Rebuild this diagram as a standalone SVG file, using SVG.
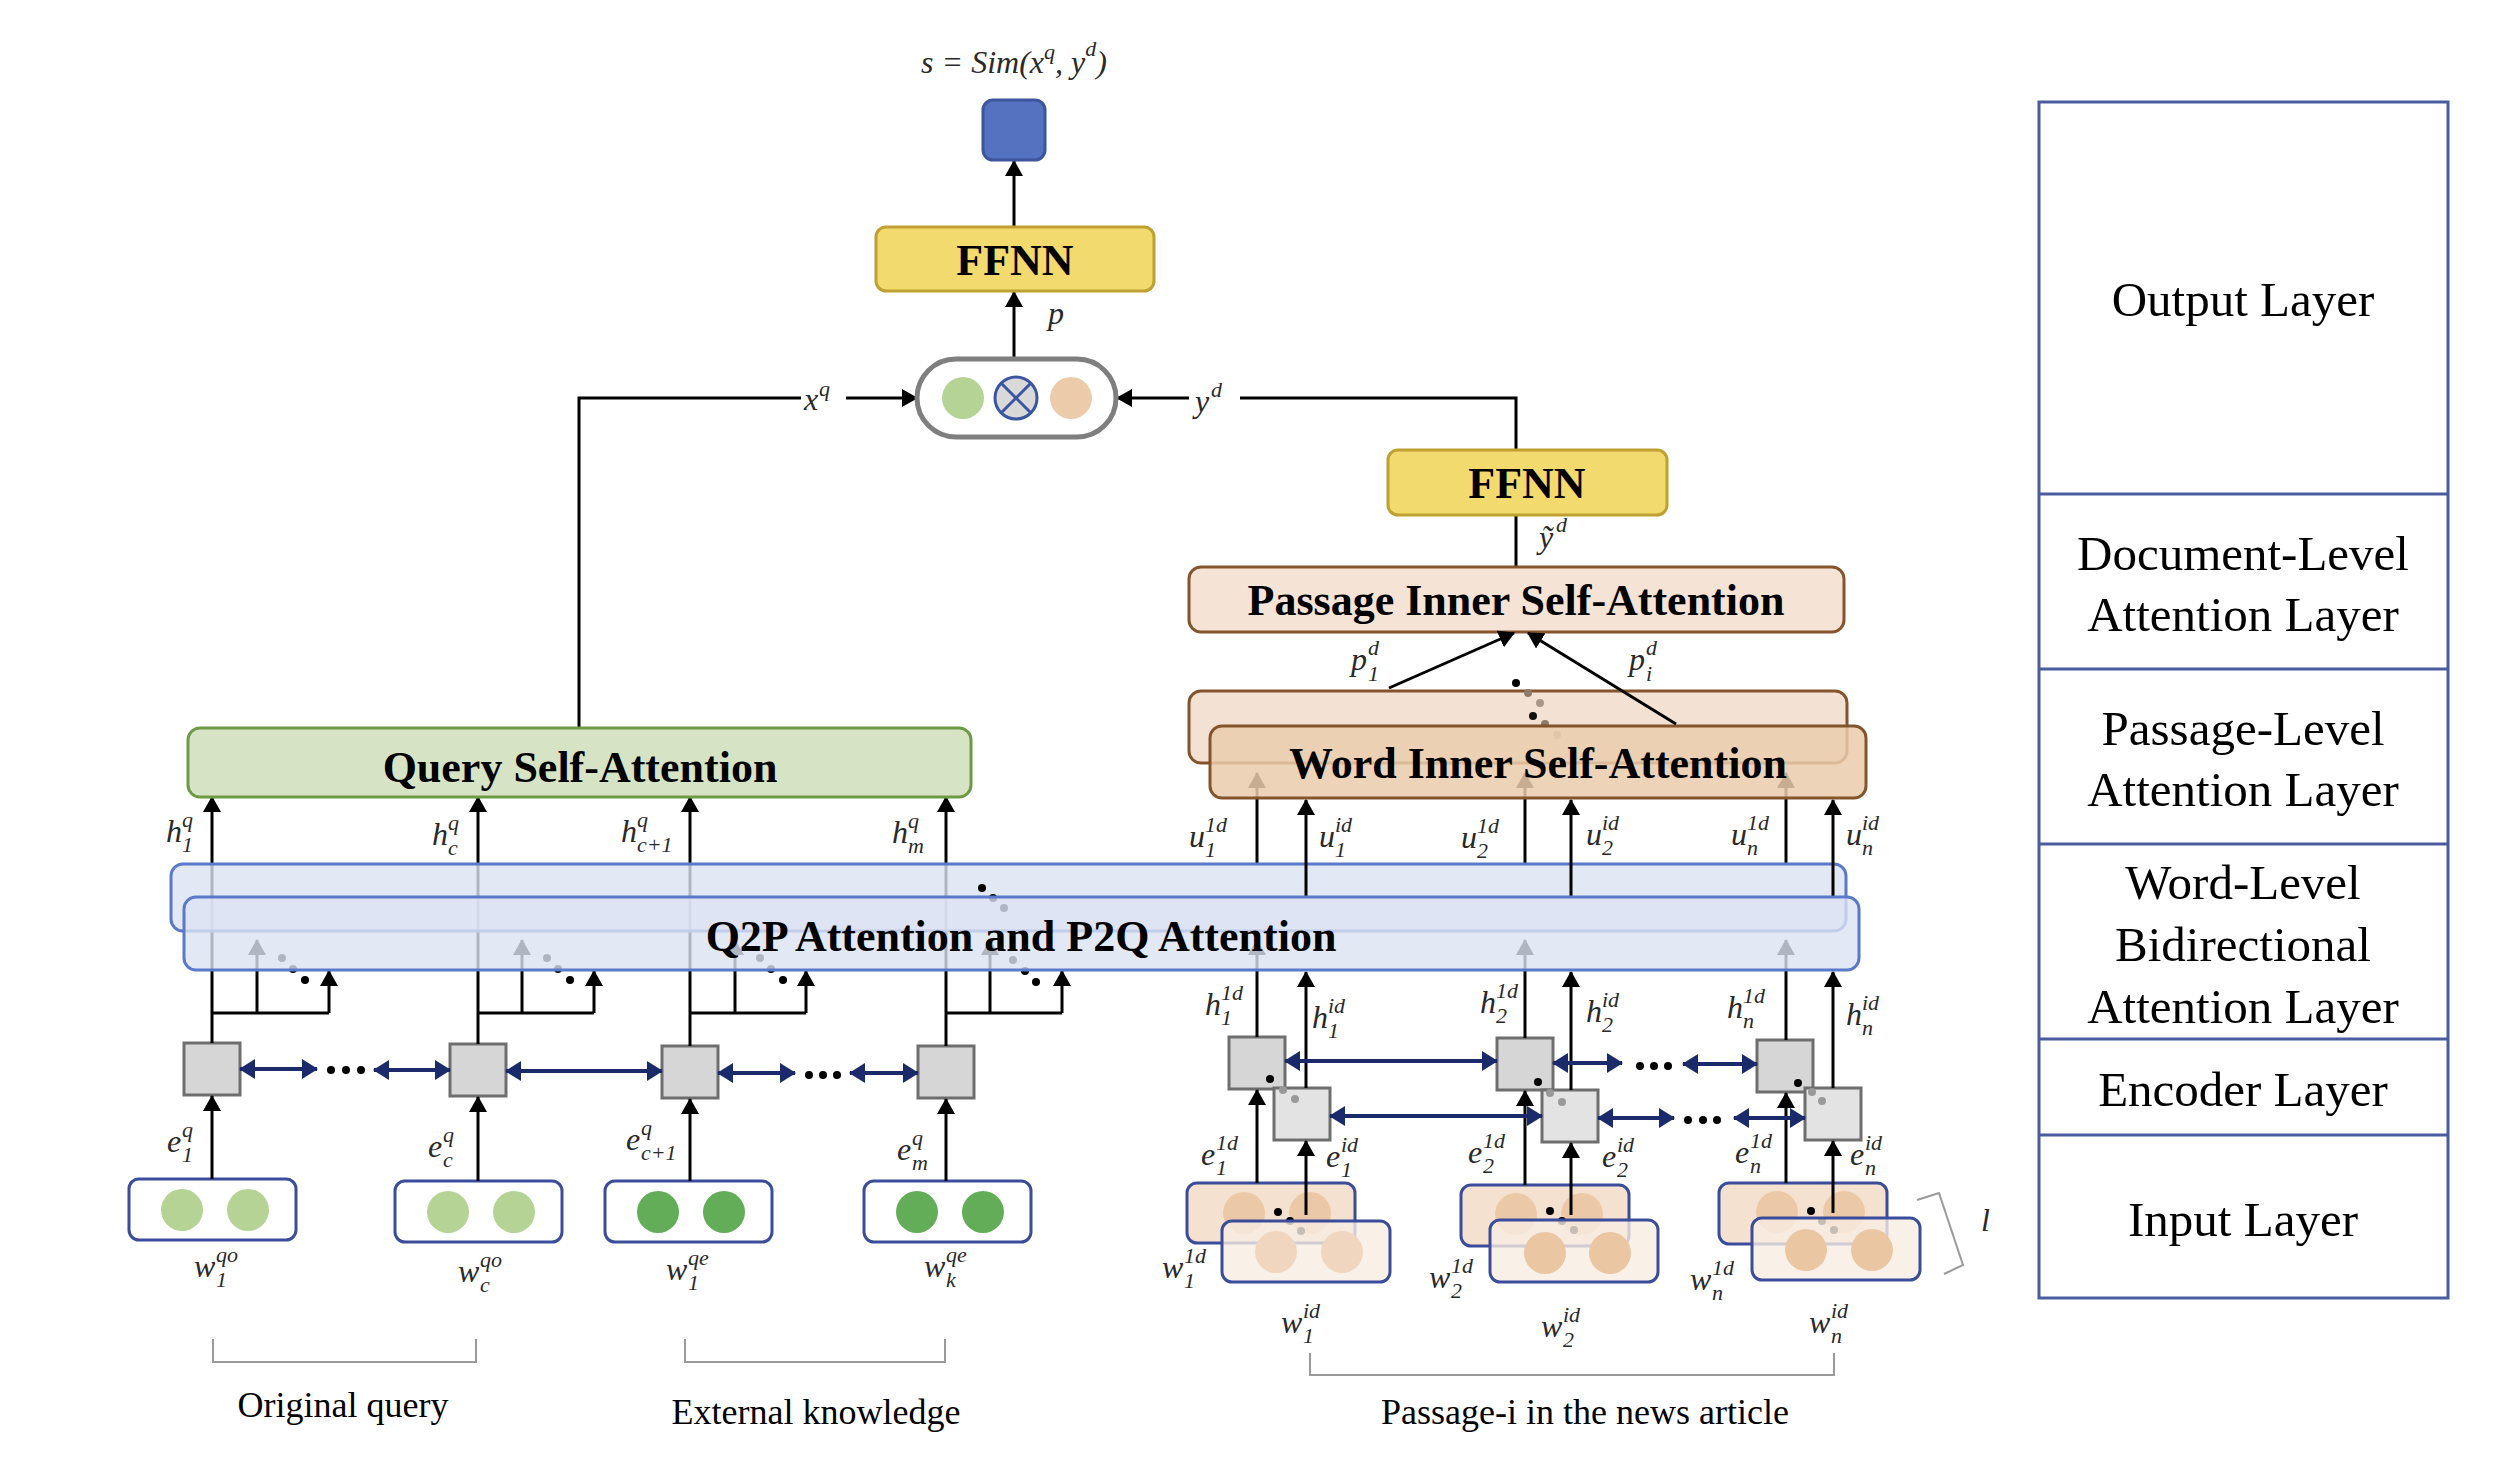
<svg xmlns="http://www.w3.org/2000/svg" width="2503" height="1468" viewBox="0 0 2503 1468">
<style>
.b{font-family:"Liberation Serif","Times New Roman",serif;font-weight:bold;font-size:44px;text-anchor:middle;fill:#000}
.m{font-family:"Liberation Serif","Times New Roman",serif;font-style:italic;font-size:32px;fill:#2a2a2a}
.s{font-size:22px}
.lay{font-family:"Liberation Serif","Times New Roman",serif;font-size:49px;text-anchor:middle;fill:#000}
.cap{font-family:"Liberation Serif","Times New Roman",serif;font-size:36px;text-anchor:middle;fill:#000}
.ln{stroke:#000;stroke-width:3;fill:none}
.la{stroke:#000;stroke-width:3;fill:none;marker-end:url(#ah)}
.na{stroke:#1b2a6b;stroke-width:4;fill:none;marker-start:url(#nh);marker-end:url(#nh)}
.gb{fill:#d6d6d6;stroke:#6e6e6e;stroke-width:3}
.gf{fill:#e3e3e3;stroke:#6e6e6e;stroke-width:3}
.ib{fill:#fff;stroke:#3b4d9a;stroke-width:3}
.pb{fill:#f5e1cf;stroke:#3b4d9a;stroke-width:3}
.pf{fill:#f8ece2;fill-opacity:0.8;stroke:#3b4d9a;stroke-width:3}
.br{fill:none;stroke:#9a9a9a;stroke-width:2}
.band{fill:#dce2f2;fill-opacity:0.8;stroke:#5b79c9;stroke-width:3}
.dk{fill:#000}
.pan{fill:none;stroke:#4a5c9e;stroke-width:3}
</style>
<defs>
<marker id="ah" viewBox="0 0 16 18" refX="15" refY="9" markerWidth="16" markerHeight="18" markerUnits="userSpaceOnUse" orient="auto"><path d="M0,0 L16,9 L0,18 z" fill="#000"/></marker>
<marker id="nh" viewBox="0 0 16 20" refX="15" refY="10" markerWidth="16" markerHeight="20" markerUnits="userSpaceOnUse" orient="auto-start-reverse"><path d="M0,0 L16,10 L0,20 z" fill="#1b2a6b"/></marker>
</defs>
<rect width="2503" height="1468" fill="#fff"/>

<g id="layer-panel">
<rect class="pan" x="2039" y="102" width="409" height="1196"/>
<path class="pan" d="M2039 494H2448M2039 669H2448M2039 844H2448M2039 1039H2448M2039 1135H2448"/>
<text class="lay" x="2243" y="316">Output Layer</text>
<text class="lay" x="2243" y="570">Document-Level</text>
<text class="lay" x="2243" y="631">Attention Layer</text>
<text class="lay" x="2243" y="745">Passage-Level</text>
<text class="lay" x="2243" y="806">Attention Layer</text>
<text class="lay" x="2243" y="899">Word-Level</text>
<text class="lay" x="2243" y="961">Bidirectional</text>
<text class="lay" x="2243" y="1023">Attention Layer</text>
<text class="lay" x="2243" y="1106">Encoder Layer</text>
<text class="lay" x="2243" y="1236">Input Layer</text>
</g>

<g id="q-in-1"><rect class="ib" x="129" y="1179" width="167" height="61" rx="10"/><circle cx="182" cy="1210" r="21" fill="#b5d394"/><circle cx="248" cy="1210" r="21" fill="#b5d394"/></g>
<g id="q-in-2"><rect class="ib" x="395" y="1181" width="167" height="61" rx="10"/><circle cx="448" cy="1212" r="21" fill="#b5d394"/><circle cx="514" cy="1212" r="21" fill="#b5d394"/></g>
<g id="q-in-3"><rect class="ib" x="605" y="1181" width="167" height="61" rx="10"/><circle cx="658" cy="1212" r="21" fill="#63ad58"/><circle cx="724" cy="1212" r="21" fill="#63ad58"/></g>
<g id="q-in-4"><rect class="ib" x="864" y="1181" width="167" height="61" rx="10"/><circle cx="917" cy="1212" r="21" fill="#63ad58"/><circle cx="983" cy="1212" r="21" fill="#63ad58"/></g>

<g id="q-enc-1"><rect class="gb" x="184" y="1043" width="56" height="52"/></g>
<g id="q-enc-2"><rect class="gb" x="450" y="1044" width="56" height="52"/></g>
<g id="q-enc-3"><rect class="gb" x="662" y="1046" width="56" height="52"/></g>
<g id="q-enc-4"><rect class="gb" x="918" y="1046" width="56" height="52"/></g>

<g id="p-in-1">
<rect class="pb" x="1187" y="1183" width="168" height="60" rx="10"/>
<circle cx="1244" cy="1213" r="21" fill="#ecc9a6"/><circle cx="1310" cy="1213" r="21" fill="#ecc9a6"/>
<circle cx="1278" cy="1212" r="4" class="dk"/><circle cx="1290" cy="1221" r="4" class="dk"/><circle cx="1301" cy="1231" r="4" class="dk"/>
<rect class="pf" x="1222" y="1221" width="168" height="61" rx="10"/>
<circle cx="1276" cy="1252" r="21" fill="#f0d6bf"/><circle cx="1342" cy="1252" r="21" fill="#f0d6bf"/>
</g>
<g id="p-in-2">
<rect class="pb" x="1461" y="1185" width="168" height="61" rx="10"/>
<circle cx="1516" cy="1214" r="21" fill="#ecc9a6"/><circle cx="1582" cy="1214" r="21" fill="#ecc9a6"/>
<circle cx="1550" cy="1211" r="4" class="dk"/><circle cx="1562" cy="1221" r="4" class="dk"/><circle cx="1574" cy="1230" r="4" class="dk"/>
<rect class="pf" x="1490" y="1220" width="168" height="62" rx="10"/>
<circle cx="1545" cy="1253" r="21" fill="#ebc6a2"/><circle cx="1610" cy="1253" r="21" fill="#ebc6a2"/>
</g>
<g id="p-in-3">
<rect class="pb" x="1719" y="1183" width="168" height="61" rx="10"/>
<circle cx="1777" cy="1212" r="21" fill="#ecc9a6"/><circle cx="1844" cy="1212" r="21" fill="#ecc9a6"/>
<circle cx="1811" cy="1211" r="4" class="dk"/><circle cx="1822" cy="1221" r="4" class="dk"/><circle cx="1834" cy="1230" r="4" class="dk"/>
<rect class="pf" x="1752" y="1218" width="168" height="62" rx="10"/>
<circle cx="1806" cy="1250" r="21" fill="#ebc6a2"/><circle cx="1872" cy="1250" r="21" fill="#ebc6a2"/>
</g>

<g id="p-enc-1"><rect class="gb" x="1229" y="1037" width="56" height="52"/><circle cx="1270" cy="1079" r="4" class="dk"/><rect class="gf" x="1274" y="1088" width="56" height="52"/><circle cx="1283" cy="1090" r="4" fill="#999"/><circle cx="1295" cy="1099" r="4" fill="#999"/></g>
<g id="p-enc-2"><rect class="gb" x="1497" y="1038" width="56" height="52"/><circle cx="1538" cy="1082" r="4" class="dk"/><rect class="gf" x="1542" y="1090" width="56" height="52"/><circle cx="1550" cy="1093" r="4" fill="#999"/><circle cx="1562" cy="1102" r="4" fill="#999"/></g>
<g id="p-enc-3"><rect class="gb" x="1757" y="1040" width="56" height="52"/><circle cx="1798" cy="1083" r="4" class="dk"/><rect class="gf" x="1805" y="1088" width="56" height="52"/><circle cx="1812" cy="1092" r="4" fill="#999"/><circle cx="1822" cy="1101" r="4" fill="#999"/></g>

<g id="connectors">
<path class="la" d="M212 1179V1096"/><path class="la" d="M478 1181V1097"/><path class="la" d="M690 1181V1099"/><path class="la" d="M946 1181V1099"/>
<path class="la" d="M212 1043V797"/><path class="la" d="M478 1044V797"/><path class="la" d="M690 1046V797"/><path class="la" d="M946 1046V797"/>
<path class="ln" d="M212 1013H329"/><path class="la" d="M329 1013V971"/><path class="la" d="M257 1013V940"/>
<path class="ln" d="M478 1013H594"/><path class="la" d="M594 1013V971"/><path class="la" d="M522 1013V940"/>
<path class="ln" d="M690 1013H806"/><path class="la" d="M806 1013V971"/><path class="la" d="M735 1013V940"/>
<path class="ln" d="M946 1013H1062"/><path class="la" d="M1062 1013V971"/><path class="la" d="M990 1013V940"/>
<g class="dk">
<circle cx="282" cy="958" r="4"/><circle cx="293" cy="969" r="4"/><circle cx="305" cy="980" r="4"/>
<circle cx="547" cy="958" r="4"/><circle cx="558" cy="969" r="4"/><circle cx="570" cy="980" r="4"/>
<circle cx="760" cy="958" r="4"/><circle cx="771" cy="969" r="4"/><circle cx="783" cy="980" r="4"/>
<circle cx="1013" cy="960" r="4"/><circle cx="1025" cy="971" r="4"/><circle cx="1036" cy="982" r="4"/>
</g>
<path class="na" d="M240 1069H317"/><path class="na" d="M374 1070H450"/><path class="na" d="M506 1071H662"/><path class="na" d="M718 1073H795"/><path class="na" d="M850 1073H918"/>
<g class="dk"><circle cx="331" cy="1070" r="4"/><circle cx="346" cy="1070" r="4"/><circle cx="361" cy="1070" r="4"/><circle cx="809" cy="1075" r="4"/><circle cx="823" cy="1075" r="4"/><circle cx="837" cy="1075" r="4"/></g>
<path class="la" d="M1257 1183V1090"/><path class="la" d="M1525 1185V1091"/><path class="la" d="M1786 1183V1093"/>
<path class="la" d="M1306 1215V1141"/><path class="la" d="M1571 1215V1143"/><path class="la" d="M1833 1213V1141"/>
<path class="la" d="M1257 1037V940"/><path class="la" d="M1525 1038V940"/><path class="la" d="M1786 1040V940"/>
<path class="la" d="M1306 1088V972"/><path class="la" d="M1571 1090V972"/><path class="la" d="M1833 1088V972"/>
<path class="la" d="M1257 864V773"/><path class="la" d="M1525 864V773"/><path class="la" d="M1786 864V773"/>
<path class="na" d="M1285 1061H1497"/><path class="na" d="M1553 1063H1622"/><path class="na" d="M1683 1064H1757"/>
<path class="na" d="M1330 1116H1542"/><path class="na" d="M1598 1118H1674"/><path class="na" d="M1734 1118H1805"/>
<g class="dk"><circle cx="1640" cy="1066" r="4"/><circle cx="1654" cy="1066" r="4"/><circle cx="1668" cy="1066" r="4"/><circle cx="1688" cy="1120" r="4"/><circle cx="1703" cy="1120" r="4"/><circle cx="1717" cy="1120" r="4"/></g>
<path class="ln" d="M579 728V398H801"/><path class="la" d="M846 398H917"/>
<path class="ln" d="M1516 567V515"/><path class="ln" d="M1516 450V398H1240"/><path class="la" d="M1189 398H1117"/>
<path class="la" d="M1014 358V292"/><path class="la" d="M1014 227V161"/>
<path class="br" d="M213 1339V1362H476V1339"/><path class="br" d="M685 1339V1362H945V1339"/><path class="br" d="M1310 1353V1375H1834V1353"/>
<path class="br" d="M1917 1200L1939 1193L1963 1265L1944 1274"/>
</g>

<g id="score"><rect x="983" y="100" width="62" height="60" rx="10" fill="#5572c0" stroke="#3d559a" stroke-width="3"/></g>
<g id="ffnn-top"><rect x="876" y="227" width="278" height="64" rx="10" fill="#f2da6f" stroke="#bfa030" stroke-width="3"/><text class="b" x="1015" y="275">FFNN</text></g>
<g id="combine">
<rect x="917" y="359" width="199" height="78" rx="39" fill="#fff" stroke="#7f7f7f" stroke-width="5"/>
<circle cx="963" cy="398" r="21" fill="#b5d394"/>
<circle cx="1016" cy="398" r="21" fill="#d9d9d9" stroke="#3c55a0" stroke-width="3"/>
<path d="M1001 383L1031 413M1031 383L1001 413" stroke="#3c55a0" stroke-width="3"/>
<circle cx="1071" cy="398" r="21" fill="#eccbab"/>
</g>
<g id="ffnn-right"><rect x="1388" y="450" width="279" height="65" rx="10" fill="#f2da6f" stroke="#bfa030" stroke-width="3"/><text class="b" x="1527" y="498">FFNN</text></g>
<g id="passage-inner"><rect x="1189" y="567" width="655" height="65" rx="12" fill="#f5e3d6" stroke="#84552d" stroke-width="3"/><text class="b" x="1516" y="615">Passage Inner Self-Attention</text></g>
<g id="query-self-attention"><rect x="188" y="728" width="783" height="69" rx="12" fill="#d6e4c5" stroke="#6e9a45" stroke-width="3"/><text class="b" x="580" y="782">Query Self-Attention</text></g>

<g id="word-inner">
<rect x="1189" y="691" width="658" height="72" rx="12" fill="#f3e2d3" stroke="#84552d" stroke-width="3"/>
<circle cx="1516" cy="683" r="4" fill="#000"/><circle cx="1528" cy="693" r="4" fill="#8c7b6b"/><circle cx="1540" cy="703" r="4" fill="#a8988a"/>
<circle cx="1533" cy="716" r="4" fill="#111"/><circle cx="1545" cy="724" r="4" fill="#8c7b6b"/><circle cx="1557" cy="735" r="4" fill="#b0a090"/>
<rect x="1210" y="726" width="656" height="72" rx="12" fill="#eaccad" fill-opacity="0.85" stroke="#84552d" stroke-width="3"/>
<text class="b" x="1538" y="778">Word Inner Self-Attention</text>
</g>

<g id="q2p-back"><rect class="band" x="171" y="864" width="1675" height="67" rx="12"/></g>

<g id="connectors-over">
<path class="la" d="M1306 897V800"/><path class="la" d="M1571 897V800"/><path class="la" d="M1833 897V800"/>
<path class="la" d="M1389 688L1514 633"/><path class="la" d="M1676 724L1528 633"/>
<circle cx="982" cy="888" r="4" fill="#000"/><circle cx="993" cy="898" r="4" fill="#000"/><circle cx="1004" cy="908" r="4" fill="#000"/>
</g>

<g id="q2p-front"><rect class="band" x="184" y="897" width="1675" height="73" rx="12"/><text class="b" x="1021" y="951">Q2P Attention and P2Q Attention</text></g>

<g id="labels">
<text class="m" x="1014" y="73" text-anchor="middle" font-size="34">s = Sim(x<tspan class="s" font-size="24" dy="-14">q</tspan><tspan dy="14">, y</tspan><tspan class="s" font-size="24" dy="-17">d</tspan><tspan dy="17">)</tspan></text>
<text class="m" x="1048" y="324">p</text>
<text class="m" x="804" y="410">x<tspan class="s" x="819" y="396">q</tspan></text>
<text class="m" x="1195" y="412">y<tspan class="s" x="1211" y="397">d</tspan></text>
<text class="m" x="1539" y="548">ỹ<tspan class="s" x="1556" y="532">d</tspan></text>
<text class="m" x="1351" y="670">p<tspan class="s" x="1368" y="655">d</tspan><tspan class="s" x="1368" y="681">1</tspan></text>
<text class="m" x="1629" y="670">p<tspan class="s" x="1646" y="655">d</tspan><tspan class="s" x="1646" y="681">i</tspan></text>

<text class="m" x="166" y="842">h<tspan class="s" x="182" y="827">q</tspan><tspan class="s" x="182" y="852">1</tspan></text>
<text class="m" x="432" y="845">h<tspan class="s" x="448" y="830">q</tspan><tspan class="s" x="448" y="855">c</tspan></text>
<text class="m" x="621" y="842">h<tspan class="s" x="637" y="827">q</tspan><tspan class="s" x="637" y="852">c+1</tspan></text>
<text class="m" x="892" y="843">h<tspan class="s" x="908" y="828">q</tspan><tspan class="s" x="908" y="853">m</tspan></text>

<text class="m" x="167" y="1152">e<tspan class="s" x="182" y="1137">q</tspan><tspan class="s" x="182" y="1162">1</tspan></text>
<text class="m" x="428" y="1157">e<tspan class="s" x="443" y="1142">q</tspan><tspan class="s" x="443" y="1167">c</tspan></text>
<text class="m" x="626" y="1150">e<tspan class="s" x="641" y="1135">q</tspan><tspan class="s" x="641" y="1160">c+1</tspan></text>
<text class="m" x="897" y="1160">e<tspan class="s" x="912" y="1145">q</tspan><tspan class="s" x="912" y="1170">m</tspan></text>

<text class="m" x="194" y="1277">w<tspan class="s" x="216" y="1262">qo</tspan><tspan class="s" x="216" y="1287">1</tspan></text>
<text class="m" x="458" y="1282">w<tspan class="s" x="480" y="1267">qo</tspan><tspan class="s" x="480" y="1292">c</tspan></text>
<text class="m" x="666" y="1280">w<tspan class="s" x="688" y="1265">qe</tspan><tspan class="s" x="688" y="1290">1</tspan></text>
<text class="m" x="924" y="1277">w<tspan class="s" x="946" y="1262">qe</tspan><tspan class="s" x="946" y="1287">k</tspan></text>

<text class="m" x="1189" y="847">u<tspan class="s" x="1205" y="832">1d</tspan><tspan class="s" x="1205" y="857">1</tspan></text>
<text class="m" x="1319" y="847">u<tspan class="s" x="1335" y="832">id</tspan><tspan class="s" x="1335" y="857">1</tspan></text>
<text class="m" x="1461" y="848">u<tspan class="s" x="1477" y="833">1d</tspan><tspan class="s" x="1477" y="858">2</tspan></text>
<text class="m" x="1586" y="845">u<tspan class="s" x="1602" y="830">id</tspan><tspan class="s" x="1602" y="855">2</tspan></text>
<text class="m" x="1731" y="845">u<tspan class="s" x="1747" y="830">1d</tspan><tspan class="s" x="1747" y="855">n</tspan></text>
<text class="m" x="1846" y="845">u<tspan class="s" x="1862" y="830">id</tspan><tspan class="s" x="1862" y="855">n</tspan></text>

<text class="m" x="1205" y="1015">h<tspan class="s" x="1221" y="1000">1d</tspan><tspan class="s" x="1221" y="1025">1</tspan></text>
<text class="m" x="1312" y="1028">h<tspan class="s" x="1328" y="1013">id</tspan><tspan class="s" x="1328" y="1038">1</tspan></text>
<text class="m" x="1480" y="1013">h<tspan class="s" x="1496" y="998">1d</tspan><tspan class="s" x="1496" y="1023">2</tspan></text>
<text class="m" x="1586" y="1022">h<tspan class="s" x="1602" y="1007">id</tspan><tspan class="s" x="1602" y="1032">2</tspan></text>
<text class="m" x="1727" y="1018">h<tspan class="s" x="1743" y="1003">1d</tspan><tspan class="s" x="1743" y="1028">n</tspan></text>
<text class="m" x="1846" y="1025">h<tspan class="s" x="1862" y="1010">id</tspan><tspan class="s" x="1862" y="1035">n</tspan></text>

<text class="m" x="1201" y="1165">e<tspan class="s" x="1216" y="1150">1d</tspan><tspan class="s" x="1216" y="1175">1</tspan></text>
<text class="m" x="1326" y="1167">e<tspan class="s" x="1341" y="1152">id</tspan><tspan class="s" x="1341" y="1177">1</tspan></text>
<text class="m" x="1468" y="1163">e<tspan class="s" x="1483" y="1148">1d</tspan><tspan class="s" x="1483" y="1173">2</tspan></text>
<text class="m" x="1602" y="1167">e<tspan class="s" x="1617" y="1152">id</tspan><tspan class="s" x="1617" y="1177">2</tspan></text>
<text class="m" x="1735" y="1163">e<tspan class="s" x="1750" y="1148">1d</tspan><tspan class="s" x="1750" y="1173">n</tspan></text>
<text class="m" x="1850" y="1165">e<tspan class="s" x="1865" y="1150">id</tspan><tspan class="s" x="1865" y="1175">n</tspan></text>

<text class="m" x="1162" y="1278">w<tspan class="s" x="1184" y="1263">1d</tspan><tspan class="s" x="1184" y="1288">1</tspan></text>
<text class="m" x="1429" y="1288">w<tspan class="s" x="1451" y="1273">1d</tspan><tspan class="s" x="1451" y="1298">2</tspan></text>
<text class="m" x="1690" y="1290">w<tspan class="s" x="1712" y="1275">1d</tspan><tspan class="s" x="1712" y="1300">n</tspan></text>
<text class="m" x="1281" y="1333">w<tspan class="s" x="1303" y="1318">id</tspan><tspan class="s" x="1303" y="1343">1</tspan></text>
<text class="m" x="1541" y="1337">w<tspan class="s" x="1563" y="1322">id</tspan><tspan class="s" x="1563" y="1347">2</tspan></text>
<text class="m" x="1809" y="1333">w<tspan class="s" x="1831" y="1318">id</tspan><tspan class="s" x="1831" y="1343">n</tspan></text>

<text class="m" x="1981" y="1231">l</text>
<text class="cap" x="343" y="1417">Original query</text>
<text class="cap" x="816" y="1424">External knowledge</text>
<text class="cap" x="1585" y="1424">Passage-i in the news article</text>
</g>
</svg>
